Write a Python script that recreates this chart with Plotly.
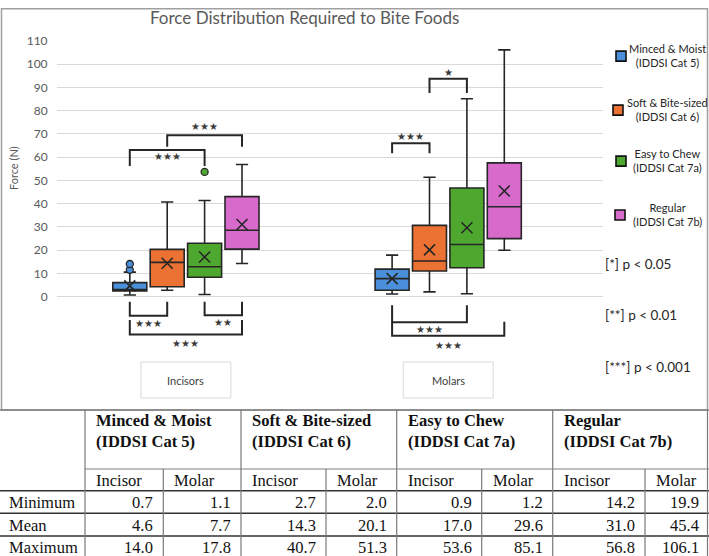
import plotly.graph_objects as go

W, H = 709, 556

# ---------------- data ----------------
series = ["Minced & Moist", "Soft & Bite-sized", "Easy to Chew", "Regular"]
series_cat = ["(IDDSI Cat 5)", "(IDDSI Cat 6)", "(IDDSI Cat 7a)", "(IDDSI Cat 7b)"]
colors = ["#4A8FD9", "#EC7233", "#4EA72E", "#D76ACB"]
groups = ["Incisors", "Molars"]

# summary table values
min_incisor = [0.7, 2.7, 0.9, 14.2]
min_molar = [1.1, 2.0, 1.2, 19.9]
mean_incisor = [4.6, 14.3, 17.0, 31.0]
mean_molar = [7.7, 20.1, 29.6, 45.4]
max_incisor = [14.0, 40.7, 53.6, 56.8]
max_molar = [17.8, 51.3, 85.1, 106.1]

# box statistics
q1_incisor = [2.4, 4.2, 8.3, 20.4]
median_incisor = [3.0, 14.7, 12.8, 28.5]
q3_incisor = [6.0, 20.3, 22.9, 43.0]
upper_whisker_incisor = [10.5, 40.7, 41.3, 56.8]
q1_molar = [2.7, 11.0, 12.4, 24.9]
median_molar = [7.7, 15.3, 22.4, 38.6]
q3_molar = [11.8, 30.6, 46.7, 57.5]
upper_whisker_molar = [17.8, 51.3, 85.1, 106.1]

# outliers
outlier_series = [0, 0, 2]
outlier_group = [0, 0, 0]
outlier_value = [11.5, 14.0, 53.6]

# significance brackets
br_group = [0, 0, 1, 1, 0, 0, 0, 1, 1]
br_from = [0, 1, 0, 1, 0, 2, 0, 0, 0]
br_to = [2, 3, 1, 2, 1, 3, 3, 2, 3]
br_leg = [56.2, 64.4, 61.6, 87.6, -2.2, -2.2, -10.1, -3.7, -10.8]
br_bar = [63.0, 69.4, 65.9, 93.7, -8.3, -8.0, -16.3, -11.1, -16.9]
br_text_y = [60.1, 73.3, 68.7, 96.2, -11.8, -11.3, -20.1, -14.0, -20.9]
br_label = ["***", "***", "***", "*", "***", "**", "***", "***", "***"]

y_ticks = list(range(0, 111, 10))
p_labels = ["[*] p &lt; 0.05", "[**] p &lt; 0.01", "[***] p &lt; 0.001"]

table_rows = ["Minimum", "Mean", "Maximum"]
sub_cols = ["Incisor", "Molar"]

# ---------------- layout helpers ----------------
# page is photographed with an 8px top offset and a slight vertical squeeze
SQ = 556 / 564.0
TOP_OFF = 8

def px(x):
    return x / W

def py(Y):
    yl = Y / SQ - TOP_OFF
    return 1 - yl / H

PLOT_L, PLOT_R = 57, 603
Y_TOP_PX, Y0_PX, PLOT_B = 40.7, 296.5, 360
YMAX = 110
PPU_Y = (Y0_PX - Y_TOP_PX) / YMAX
YMIN = (Y0_PX - PLOT_B) / PPU_Y

G0_PX, G_STEP_PX = 185.9, 262.3
XMIN = (PLOT_L - G0_PX) / G_STEP_PX
XMAX = (PLOT_R - G0_PX) / G_STEP_PX
SP = 37.4 / G_STEP_PX
BW = 34.0 / G_STEP_PX

def pos(g, i):
    return g + (i - 1.5) * SP

def xpix(v):
    return PLOT_L + (v - XMIN) / (XMAX - XMIN) * (PLOT_R - PLOT_L)

SANS = "Lato, Open Sans, sans-serif"
SERIF = "Liberation Serif, Times New Roman, serif"

fig = go.Figure()

q1s = [q1_incisor, q1_molar]
meds = [median_incisor, median_molar]
q3s = [q3_incisor, q3_molar]
los = [min_incisor, min_molar]
his = [upper_whisker_incisor, upper_whisker_molar]
means = [mean_incisor, mean_molar]

for i, s in enumerate(series):
    fig.add_trace(go.Box(
        x=[pos(g, i) for g in range(len(groups))],
        q1=[q1s[g][i] for g in range(len(groups))],
        median=[meds[g][i] for g in range(len(groups))],
        q3=[q3s[g][i] for g in range(len(groups))],
        lowerfence=[los[g][i] for g in range(len(groups))],
        upperfence=[his[g][i] for g in range(len(groups))],
        width=BW, whiskerwidth=0.36,
        fillcolor=colors[i], line=dict(color="#262626", width=1.6),
        boxpoints=False, showlegend=False, name=s, hoverinfo="skip",
    ))

# mean markers
fig.add_trace(go.Scatter(
    x=[pos(g, i) for g in range(len(groups)) for i in range(len(series))],
    y=[means[g][i] for g in range(len(groups)) for i in range(len(series))],
    mode="markers", showlegend=False, hoverinfo="skip",
    marker=dict(symbol="x-thin-open", size=11, color="#262626",
                line=dict(color="#262626", width=1.6)),
))

# outliers
fig.add_trace(go.Scatter(
    x=[pos(g, s) for g, s in zip(outlier_group, outlier_series)],
    y=outlier_value, mode="markers", showlegend=False, hoverinfo="skip",
    marker=dict(symbol="circle", size=7,
                color=[colors[s] for s in outlier_series],
                line=dict(color="#262626", width=1.3)),
))

shapes = []
annotations = []

def note(x, y, text, size, color, family=SANS, xanchor="center", align="center", **kw):
    d = dict(xref="paper", yref="paper", x=px(x), y=py(y), text=text, showarrow=False,
             xanchor=xanchor, yanchor="middle", align=align,
             font=dict(family=family, size=size, color=color))
    d.update(kw)
    annotations.append(d)

# brackets
for k in range(len(br_label)):
    x1 = pos(br_group[k], br_from[k])
    x2 = pos(br_group[k], br_to[k])
    shapes.append(dict(type="path", xref="x", yref="y",
                       path=f"M {x1},{br_leg[k]} L {x1},{br_bar[k]} L {x2},{br_bar[k]} L {x2},{br_leg[k]}",
                       line=dict(color="#262626", width=2)))
    annotations.append(dict(xref="x", yref="y", x=(x1 + x2) / 2, y=br_text_y[k],
                            xanchor="center", yanchor="middle",
                            text="★" * len(br_label[k]), showarrow=False,
                            font=dict(family="DejaVu Sans", size=10, color="#3a3a3a")))

# outer frame
shapes.append(dict(type="rect", xref="paper", yref="paper",
                   x0=px(1.5), x1=px(707.5), y0=py(410), y1=1 - 0.8 / H,
                   line=dict(color="#a0a0a0", width=1.5)))

# title and axis title
note(304.5, 17, "Force Distribution Required to Bite Foods", 17, "#595959")
note(13, 168, "Force (N)", 11, "#595959", textangle=-90)

# group labels
for g, name in enumerate(groups):
    cx = xpix(g)
    shapes.append(dict(type="rect", xref="paper", yref="paper",
                       x0=px(cx - 45), x1=px(cx + 45), y0=py(398), y1=py(362),
                       line=dict(color="#d9d9d9", width=1)))
    note(cx, 380, name, 11, "#404040")

# legend
leg_y = [56, 110, 161, 215]
leg_x = [621, 618, 621, 620]
for i in range(len(series)):
    shapes.append(dict(type="rect", xref="paper", yref="paper",
                       x0=px(leg_x[i] - 5), x1=px(leg_x[i] + 5),
                       y0=py(leg_y[i] + 5), y1=py(leg_y[i] - 5),
                       fillcolor=colors[i], line=dict(color="#111111", width=1.6)))
    note(667.5, leg_y[i] - 0.5, series[i] + "<br>" + series_cat[i], 11, "#262626")

# p-value notes
p_y = [264, 315, 366.5]
for t, yy in zip(p_labels, p_y):
    note(603, yy, t, 13.5, "#262626", xanchor="left", align="left")

# ---------------- table ----------------
col_edges = [0, 85, 163.3, 241, 326, 396.7, 481.7, 552.7, 645, 709]
row_lines = [410, 469, 490.7, 513.3, 536]
row_centers = [502.3, 525, 547.3]
BOTTOM = 560
values_rows = [(min_incisor, min_molar), (mean_incisor, mean_molar), (max_incisor, max_molar)]

def hline(y, x0, x1, color, width):
    shapes.append(dict(type="line", xref="paper", yref="paper",
                       x0=px(x0), x1=px(x1), y0=py(y), y1=py(y),
                       line=dict(color=color, width=width)))

def vline(x, y0, y1, color, width):
    shapes.append(dict(type="line", xref="paper", yref="paper",
                       x0=px(x), x1=px(x), y0=py(y0), y1=py(y1),
                       line=dict(color=color, width=width)))

hline(row_lines[0], 0, 709, "#808080", 1.4)
hline(row_lines[1], col_edges[1], 709, "#808080", 1.2)
for y in row_lines[2:]:
    hline(y, 0, 709, "#333333", 1.6)
for j, x in enumerate(col_edges[1:-1], start=1):
    top = row_lines[0] if j % 2 == 1 else row_lines[1]
    vline(x, top, BOTTOM, "#7a7a7a", 1.2)
vline(707.5, row_lines[0], BOTTOM, "#7a7a7a", 1.2)

for i in range(len(series)):
    x0 = col_edges[1 + 2 * i]
    note(x0 + 9, 431.2, "<b>" + series[i] + "<br>" + series_cat[i] + "</b>", 16.5,
         "#111111", family=SERIF, xanchor="left", align="left")
    for k, sc in enumerate(sub_cols):
        xc = col_edges[1 + 2 * i + k]
        note(xc + 9, 480, sc, 16.5, "#111111", family=SERIF, xanchor="left", align="left")

for r, name in enumerate(table_rows):
    note(7, row_centers[r], name, 16.5, "#111111", family=SERIF, xanchor="left", align="left")
    inc_vals, mol_vals = values_rows[r]
    for i in range(len(series)):
        for k, vals in enumerate((inc_vals, mol_vals)):
            xr = col_edges[2 + 2 * i + k]
            note(xr - 8, row_centers[r], f"{vals[i]:.1f}", 16.5, "#111111", family=SERIF,
                 xanchor="right", align="right")

fig.update_layout(
    width=W, height=H, autosize=False,
    margin=dict(l=0, r=0, t=0, b=0, pad=0),
    paper_bgcolor="white", plot_bgcolor="white",
    boxmode="overlay",
    xaxis=dict(domain=[px(PLOT_L), px(PLOT_R)], range=[XMIN, XMAX], visible=False,
               fixedrange=True),
    yaxis=dict(domain=[py(PLOT_B), py(Y_TOP_PX)], range=[YMIN, YMAX],
               tickvals=y_ticks, showgrid=True, gridcolor="#d9d9d9", gridwidth=1,
               zeroline=False, showline=False, ticks="outside", ticklen=6,
               tickcolor="rgba(0,0,0,0)",
               tickfont=dict(family=SANS, size=12, color="#595959"), fixedrange=True),
    shapes=shapes, annotations=annotations, showlegend=False,
)

fig.write_html("out.html")
